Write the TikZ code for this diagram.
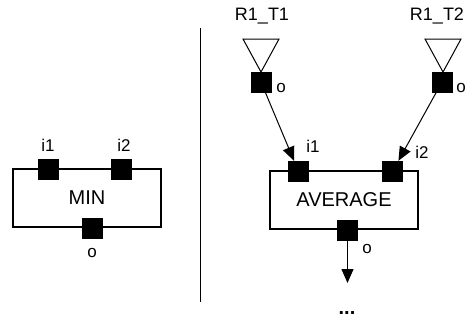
\documentclass[tikz,border=0pt]{standalone}
\usepackage{fontspec}
\setmainfont{Liberation Sans}
\usetikzlibrary{positioning, arrows.meta}

\begin{document}
\begin{tikzpicture}[x=1pt, y=-1pt,
    block/.style={draw, line width=1.1pt, minimum width=148pt, minimum height=58pt,
                  inner sep=0pt, font=\fontsize{20}{22}\selectfont},
    port/.style={fill=black, minimum size=21pt, inner sep=0pt},
    plabel/.style={inner sep=0pt, font=\fontsize{17}{20}\selectfont},
    flow/.style={line width=1pt, -{Triangle[length=14pt, width=12pt]}}]
  \useasboundingbox (0,0) rectangle (469,327);

  % left: MIN
  \node[block] (minb) at (87,198) {\raisebox{-2pt}{MIN}};
  \node[port] (mini1) at (48,169) {};
  \node[port] (mini2) at (121.5,169) {};
  \node[port] (mino) at (92,228) {};
  \node[plabel] (minli1) at (48,145) {i1};
  \node[plabel] (minli2) at (124,145) {i2};
  \node[plabel] (minlo) at (92,253) {o};

  % separator
  \draw[line width=0.9pt] (200.5,28) -- (200.5,302);

  % right: sources
  \node[plabel, font=\fontsize{18}{21}\selectfont] (src1) at (262,16) {R1\_T1};
  \node[plabel, font=\fontsize{18}{21}\selectfont] (src2) at (437,16) {R1\_T2};
  \draw[line width=1pt] (243,39) -- (279,39) -- (261,72) -- cycle;
  \draw[line width=1pt] (425,39) -- (461,39) -- (443,72) -- cycle;
  \node[port] (src1o) at (261,82) {};
  \node[port] (src2o) at (442,82) {};
  \node[plabel] (src1lo) at (281,88) {o};
  \node[plabel] (src2lo) at (461,88) {o};

  % right: AVERAGE
  \node[block] (avgb) at (344,200) {\raisebox{-2pt}{AVERAGE}};
  \node[port] (avgi1) at (298.5,171.5) {};
  \node[port] (avgi2) at (392.5,171.5) {};
  \node[port] (avgo) at (347.5,230) {};
  \node[plabel] (avgli1) at (313,146) {i1};
  \node[plabel] (avgli2) at (422,152) {i2};
  \node[plabel] (avglo) at (367,249) {o};
  \coordinate (avgend) at (347.5,283);
  \node[inner sep=0pt, font=\fontsize{20}{22}\selectfont\bfseries] (more) at (347,313) {...};

  \draw[flow] (src1o) -- (avgi1);
  \draw[flow] (src2o) -- (avgi2);
  \draw[flow] (avgo) -- (avgend);
\end{tikzpicture}
\end{document}
